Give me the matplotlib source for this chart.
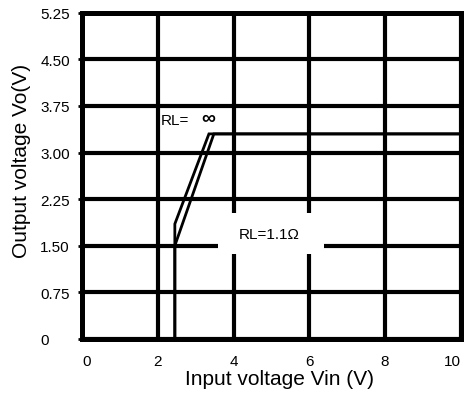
import matplotlib
matplotlib.use("Agg")
import matplotlib.pyplot as plt
from matplotlib.patches import Rectangle

plt.rcParams["font.family"] = ["Liberation Sans", "DejaVu Sans"]

# data
x_ticks = [0, 2, 4, 6, 8, 10]
y_ticks = [0, 0.75, 1.50, 2.25, 3.00, 3.75, 4.50, 5.25]
y_tick_labels = ["0", "0.75", "1.50", "2.25", "3.00", "3.75", "4.50", "5.25"]

vin_inf = [2.45, 2.45, 3.35, 10]
vo_inf = [0, 1.85, 3.3, 3.3]
vin_load = [2.45, 2.45, 3.48, 10]
vo_load = [0, 1.5, 3.3, 3.3]

fig = plt.figure(figsize=(4.66, 4.06), dpi=100)
ax = fig.add_axes([0.176, 0.163, 0.813, 0.803])

ax.set_xlim(0, 10)
ax.set_ylim(0, 5.25)
ax.set_xticks(x_ticks)
ax.set_yticks(y_ticks)
ax.set_yticklabels(y_tick_labels)

ax.grid(True, color="black", linewidth=3, zorder=1)
ax.set_axisbelow(True)
for s in ax.spines.values():
    s.set_linewidth(3.6)
    s.set_zorder(5)

ax.tick_params(axis="x", length=0, pad=11, labelsize=11)
ax.tick_params(axis="y", length=3, width=2, pad=27, labelsize=11)
for lab in ax.get_yticklabels():
    lab.set_horizontalalignment("left")
xlabs = ax.get_xticklabels()
xlabs[0].set_horizontalalignment("left")
xlabs[-1].set_horizontalalignment("right")

# white box behind the RL=1.1 label
ax.add_patch(Rectangle((3.6, 1.37), 2.8, 0.65, facecolor="white",
                       edgecolor="none", zorder=2))

ax.plot(vin_inf, vo_inf, color="black", linewidth=2, zorder=3,
        solid_joinstyle="miter")
ax.plot(vin_load, vo_load, color="black", linewidth=2, zorder=3,
        solid_joinstyle="miter")

ax.text(2.08, 3.52, "RL=", fontsize=11, va="center", ha="left", zorder=4)
ax.text(3.33, 3.55, "∞", fontsize=14, fontweight="bold", va="center",
        ha="center", zorder=4)
ax.text(4.95, 1.68, "RL=1.1Ω", fontsize=11, va="center", ha="center", zorder=4)

ax.set_xlabel("Input voltage Vin (V)", fontsize=15)
ax.set_ylabel("Output voltage Vo(V)", fontsize=15)
ax.xaxis.set_label_coords(0.522, -0.092)
ax.yaxis.set_label_coords(-0.134, 0.548)

fig.savefig("out.png", dpi=100)
